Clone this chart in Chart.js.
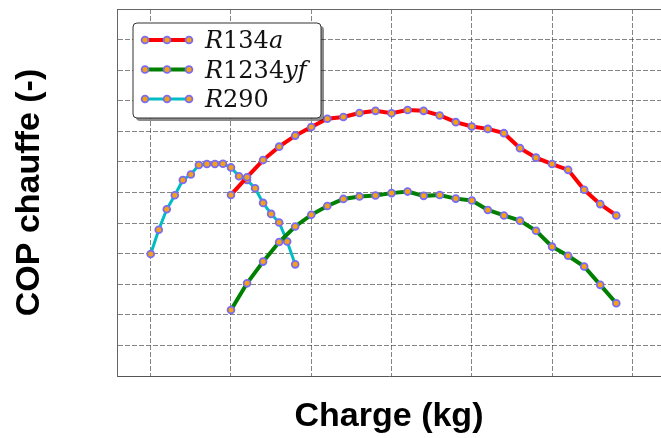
<!DOCTYPE html>
<html><head><meta charset="utf-8">
<script src="https://cdn.jsdelivr.net/npm/chart.js@4.4.1/dist/chart.umd.min.js"></script>
<style>html,body{margin:0;padding:0;background:#fff;} canvas{display:block;}</style>
</head><body>
<canvas id="c" width="661" height="438"></canvas>
<script>
// ---- data (arbitrary grid units, no tick labels shown) ----
const r290X = [0.0,0.1,0.2,0.3,0.4,0.5,0.6,0.7,0.8,0.9,1.0,1.1,1.2,1.3,1.4,1.5,1.6,1.7,1.8];
const r290Y = [3.99,4.78,5.45,5.91,6.41,6.59,6.90,6.93,6.93,6.94,6.82,6.53,6.41,6.14,5.66,5.30,5.02,4.40,3.65];
const hfX = [1.0,1.2,1.4,1.6,1.8,2.0,2.2,2.4,2.6,2.8,3.0,3.2,3.4,3.6,3.8,4.0,4.2,4.4,4.6,4.8,5.0,5.2,5.4,5.6,5.8];
const r134aY = [5.92,6.50,7.06,7.50,7.86,8.14,8.41,8.47,8.60,8.67,8.59,8.70,8.67,8.52,8.30,8.16,8.08,7.94,7.45,7.14,6.93,6.74,6.09,5.62,5.25];
const r1234yfY = [2.16,3.03,3.74,4.38,4.89,5.27,5.56,5.79,5.87,5.90,5.98,6.03,5.89,5.92,5.80,5.74,5.43,5.25,5.08,4.75,4.23,3.93,3.58,2.98,2.38];
const seriesLabels = ['R134a','R1234yf','R290'];
const xTicks = [0,1,2,3,4,5,6];
const yTicks = [0,1,2,3,4,5,6,7,8,9,10,11,12];
const xTitle = 'Charge (kg)';
const yTitle = 'COP chauffe (-)';

const toPts = (xs, ys) => xs.map((x, i) => ({x, y: ys[i]}));

const MARK_FILL = '#f5a015';
const MARK_EDGE = '#7a6cf2';

function ds(label, data, color, width) {
  return {
    label, data, borderColor: color, borderWidth: width, backgroundColor: color,
    pointRadius: 3.4, pointBorderWidth: 1.8, pointBackgroundColor: MARK_FILL,
    pointBorderColor: MARK_EDGE, pointHoverRadius: 3.4, tension: 0, fill: false
  };
}

function drawMathLabel(ctx, text, x, y, size) {
  let cx = x;
  for (const ch of text) {
    const digit = /[0-9]/.test(ch);
    ctx.font = (digit ? '' : 'italic ') + size + 'px "DejaVu Serif"';
    ctx.fillText(ch, cx, y);
    cx += ctx.measureText(ch).width;
  }
}

function rrect(ctx, x, y, w, h, r) {
  ctx.beginPath();
  ctx.moveTo(x + r, y);
  ctx.lineTo(x + w - r, y); ctx.arcTo(x + w, y, x + w, y + r, r);
  ctx.lineTo(x + w, y + h - r); ctx.arcTo(x + w, y + h, x + w - r, y + h, r);
  ctx.lineTo(x + r, y + h); ctx.arcTo(x, y + h, x, y + h - r, r);
  ctx.lineTo(x, y + r); ctx.arcTo(x, y, x + r, y, r);
  ctx.closePath();
}

const legendBox = {
  id: 'legendBox',
  afterDatasetsDraw(chart) {
    const ctx = chart.ctx;
    const a = chart.chartArea;
    const bx = a.left + 16, by = a.top + 14, bw = 188, bh = 95;
    ctx.save();
    ctx.fillStyle = 'rgba(0,0,0,0.45)';
    rrect(ctx, bx + 3, by + 3, bw, bh, 4); ctx.fill();
    ctx.fillStyle = '#ffffff';
    ctx.strokeStyle = '#333';
    ctx.lineWidth = 1;
    rrect(ctx, bx, by, bw, bh, 4); ctx.fill(); ctx.stroke();
    chart.data.datasets.forEach((d, i) => {
      const ry = by + 17 + i * 29.5;
      const x0 = bx + 12, x1 = bx + 56;
      ctx.strokeStyle = d.borderColor; ctx.lineWidth = d.borderWidth;
      ctx.beginPath(); ctx.moveTo(x0, ry); ctx.lineTo(x1, ry); ctx.stroke();
      [x0, (x0 + x1) / 2, x1].forEach(mx => {
        ctx.beginPath(); ctx.arc(mx, ry, d.pointRadius, 0, Math.PI * 2);
        ctx.fillStyle = MARK_FILL; ctx.fill();
        ctx.lineWidth = d.pointBorderWidth; ctx.strokeStyle = MARK_EDGE; ctx.stroke();
      });
      ctx.fillStyle = '#111';
      ctx.textBaseline = 'alphabetic';
      drawMathLabel(ctx, d.label, bx + 72, ry + 8, 24);
    });
    ctx.restore();
  }
};

const gridCol = 'rgba(50,50,50,0.6)';

new Chart(document.getElementById('c'), {
  type: 'line',
  data: {
    datasets: [
      ds(seriesLabels[0], toPts(hfX, r134aY), '#ff0000', 4),
      ds(seriesLabels[1], toPts(hfX, r1234yfY), '#008000', 4),
      ds(seriesLabels[2], toPts(r290X, r290Y), '#00bcc4', 3)
    ]
  },
  options: {
    responsive: false, animation: false, devicePixelRatio: 1,
    layout: { autoPadding: false, padding: { top: 9, right: 0, left: 0, bottom: 0 } },
    plugins: { legend: { display: false }, tooltip: { enabled: false } },
    scales: {
      x: {
        type: 'linear', min: -0.42, max: 6.357,
        afterBuildTicks: s => { s.ticks = xTicks.map(v => ({ value: v })); },
        afterFit: s => { s.height = 62; },
        ticks: { display: false },
        grid: { color: gridCol, lineWidth: 1, drawTicks: false },
        border: { display: true, color: '#555', width: 1, dash: [5, 2] },
        title: { display: true, text: xTitle, color: '#000',
          font: { family: '"Liberation Sans", Arial, sans-serif', weight: 'bold', size: 34 },
          padding: { top: 0, bottom: 1 } }
      },
      x2: {
        type: 'linear', position: 'top', min: 0, max: 1,
        afterFit: s => { s.height = 0; },
        ticks: { display: false },
        grid: { display: false, drawTicks: false },
        border: { display: true, color: '#666', width: 1 }
      },
      y: {
        type: 'linear', min: 0, max: 12,
        afterBuildTicks: s => { s.ticks = yTicks.map(v => ({ value: v })); },
        afterFit: s => { s.width = 117; },
        ticks: { display: false },
        grid: { color: gridCol, lineWidth: 1, drawTicks: false },
        border: { display: true, color: '#666', width: 1, dash: [5, 2] },
        title: { display: true, text: yTitle, color: '#000',
          font: { family: '"Liberation Sans", Arial, sans-serif', weight: 'bold', size: 34 },
          padding: { top: 9, bottom: 0 } }
      }
    }
  },
  plugins: [legendBox]
});
</script>
</body></html>
